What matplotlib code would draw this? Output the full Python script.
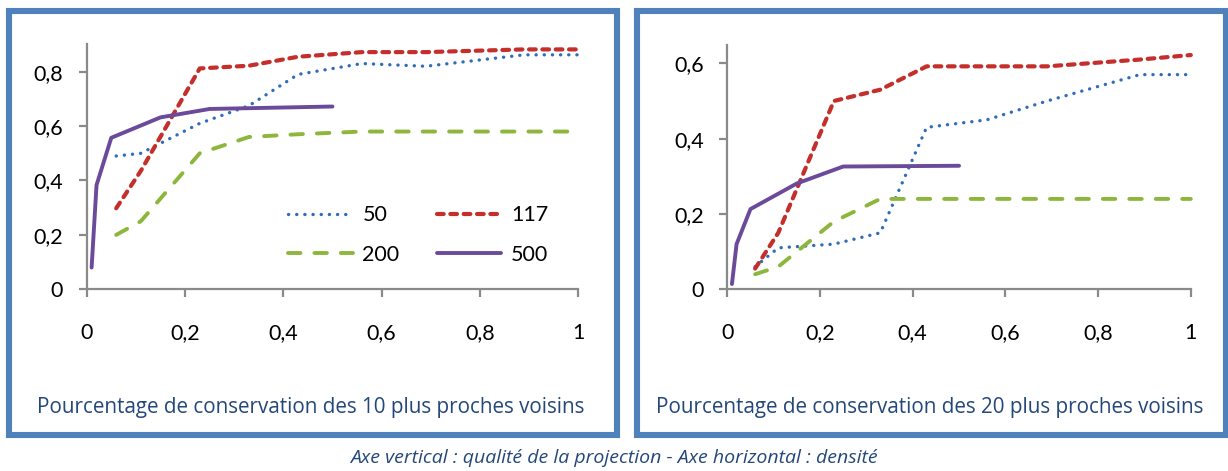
import matplotlib
matplotlib.use("Agg")
import matplotlib.pyplot as plt
from matplotlib.patches import Rectangle
from matplotlib.lines import Line2D

# ---------------- data ----------------
x_common = [0.06, 0.11, 0.23, 0.33, 0.43, 0.56, 0.69, 0.89, 1.0]
x_500 = [0.01, 0.02, 0.05, 0.15, 0.25, 0.5]

# left chart: 10 nearest neighbours
l_50 = [0.49, 0.50, 0.61, 0.675, 0.79, 0.83, 0.82, 0.862, 0.862]
l_117 = [0.298, 0.435, 0.812, 0.822, 0.855, 0.872, 0.872, 0.882, 0.882]
l_200 = [0.20, 0.25, 0.50, 0.56, 0.57, 0.58, 0.58, 0.58, 0.58]
l_500 = [0.08, 0.383, 0.557, 0.632, 0.663, 0.672]

# right chart: 20 nearest neighbours
r_50 = [0.06, 0.11, 0.12, 0.15, 0.43, 0.45, 0.50, 0.57, 0.57]
r_117 = [0.055, 0.15, 0.50, 0.53, 0.592, 0.592, 0.592, 0.61, 0.622]
r_200 = [0.04, 0.06, 0.18, 0.24, 0.24, 0.24, 0.24, 0.24, 0.24]
r_500 = [0.014, 0.12, 0.213, 0.281, 0.326, 0.328]

series_names = ["50", "117", "200", "500"]
x_ticks = [0, 0.2, 0.4, 0.6, 0.8, 1.0]
x_ticklabels = ["0", "0,2", "0,4", "0,6", "0,8", "1"]
yl_ticks = [0, 0.2, 0.4, 0.6, 0.8]
yl_ticklabels = ["0", "0,2", "0,4", "0,6", "0,8"]
yr_ticks = [0, 0.2, 0.4, 0.6]
yr_ticklabels = ["0", "0,2", "0,4", "0,6"]
captions = ["Pourcentage de conservation des 10 plus proches voisins",
            "Pourcentage de conservation des 20 plus proches voisins"]
footer = "Axe vertical : qualité de la projection - Axe horizontal : densité"

# ---------------- style ----------------
W, H = 1228, 471
DPI = 100
FONT = "Lato"
FONT2 = "Open Sans"
C_BLUE = "#2F6DBB"
C_RED = "#C42F2C"
C_GREEN = "#8DB63C"
C_PURPLE = "#6B4A9B"
C_BORDER = "#4F81BD"
C_AXIS = "#8A8A8A"
C_TEXT = "#24477A"

styles = {
    "50": dict(color=C_BLUE, lw=2.4, linestyle=(0, (0.05, 2.4)), dash_capstyle="round"),
    "117": dict(color=C_RED, lw=3.0, linestyle=(0, (1.6, 1.6)), dash_capstyle="round"),
    "200": dict(color=C_GREEN, lw=2.8, linestyle=(0, (3.2, 3.6)), dash_capstyle="round"),
    "500": dict(color=C_PURPLE, lw=2.8, linestyle="-", solid_capstyle="round"),
}

fig = plt.figure(figsize=(W / DPI, H / DPI), dpi=DPI)
fig.patch.set_facecolor("white")


def px_rect(x0, y0, x1, y1):
    # pixel (from top-left) -> figure fraction
    return [x0 / W, 1 - y1 / H, (x1 - x0) / W, (y1 - y0) / H]


# panel borders
for (x0, y0, x1, y1) in [(9, 10.5, 617.5, 435), (637, 10.5, 1225.5, 435)]:
    fig.patches.append(Rectangle((x0 / W, 1 - y1 / H), (x1 - x0) / W, (y1 - y0) / H,
                                 transform=fig.transFigure, fill=False,
                                 edgecolor=C_BORDER, lw=4.4, zorder=0))

axL = fig.add_axes(px_rect(86.7, 44.5, 578.2, 289.3))
axR = fig.add_axes(px_rect(727.3, 44.5, 1190.8, 289.3))


def setup(ax, ymax, yt, ytl):
    ax.set_xlim(0, 1)
    ax.set_ylim(0, ymax)
    for s in ["top", "right"]:
        ax.spines[s].set_visible(False)
    for s in ["left", "bottom"]:
        ax.spines[s].set_color(C_AXIS)
        ax.spines[s].set_linewidth(1.6)
    ax.set_xticks(x_ticks)
    ax.set_xticklabels(x_ticklabels, fontfamily=FONT, fontsize=15.5)
    ax.set_yticks(yt)
    ax.set_yticklabels(ytl, fontfamily=FONT, fontsize=15.5)
    ax.tick_params(axis="x", direction="out", length=5.5, width=1.6, color=C_AXIS, pad=19)
    ax.tick_params(axis="y", direction="out", length=6, width=1.6, color=C_AXIS, pad=11)
    ax.patch.set_alpha(0)


setup(axL, 0.9, yl_ticks, yl_ticklabels)
setup(axR, 0.65, yr_ticks, yr_ticklabels)

for ax, d50, d117, d200, d500 in [(axL, l_50, l_117, l_200, l_500), (axR, r_50, r_117, r_200, r_500)]:
    ax.plot(x_common, d50, clip_on=False, label="50", **styles["50"])
    ax.plot(x_common, d117, clip_on=False, label="117", **styles["117"])
    ax.plot(x_common, d200, clip_on=False, label="200", **styles["200"])
    ax.plot(x_500, d500, clip_on=False, label="500", **styles["500"])

# legend: rows (50, 117) / (200, 500) -> matplotlib fills column-wise
leg_order = ["50", "200", "117", "500"]
handles = [Line2D([], [], **styles[n]) for n in leg_order]
leg = axL.legend(handles, leg_order, ncol=2, frameon=False,
                 loc="upper left", bbox_to_anchor=(0.41, 0.343),
                 prop=dict(family=FONT, size=15.5), handlelength=3.0,
                 handletextpad=0.45, columnspacing=1.72, labelspacing=0.9,
                 borderpad=0, borderaxespad=0)

fig.text(311 / W, 1 - 407 / H, captions[0], ha="center", va="center",
         fontfamily=FONT2, fontsize=14.9, color=C_TEXT)
fig.text(930 / W, 1 - 407 / H, captions[1], ha="center", va="center",
         fontfamily=FONT2, fontsize=14.9, color=C_TEXT)
fig.text(614 / W, 1 - 458 / H, footer, ha="center", va="center",
         fontfamily=FONT2, fontsize=14.0, style="italic", color=C_TEXT)

fig.savefig("out.png", dpi=DPI)
